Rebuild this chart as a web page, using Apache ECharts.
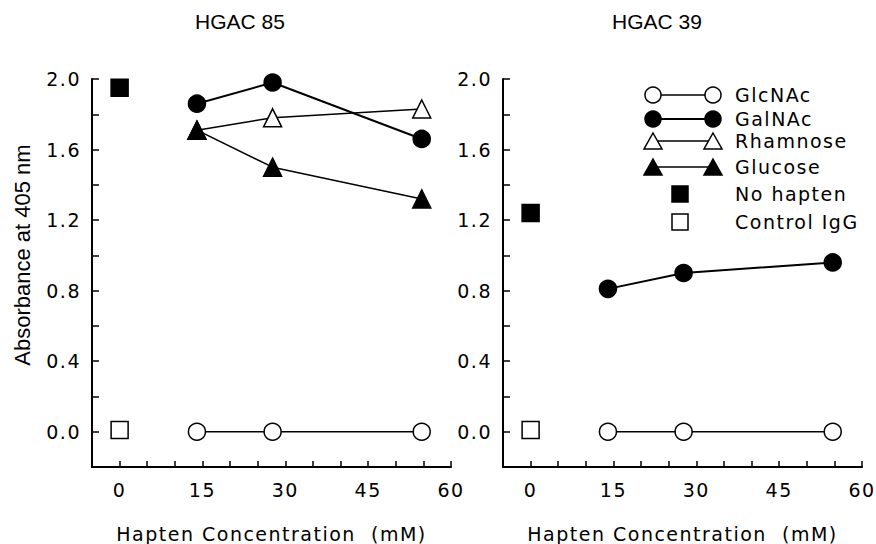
<!DOCTYPE html>
<html>
<head>
<meta charset="utf-8">
<script src="https://cdn.jsdelivr.net/npm/echarts@6/dist/echarts.min.js"></script>
<style>
html,body{margin:0;padding:0;background:#fff;}
#c{width:876px;height:544px;}
text[style*="DejaVu"]{letter-spacing:1.5px;}
</style>
</head>
<body>
<div id="c"></div>
<script>
// ---- data ----
const panelTitles = ['HGAC 85', 'HGAC 39'];
const conc = [14, 27.7, 54.7];           // hapten concentration (mM)
const xTickLabels = [0, 15, 30, 45, 60];
const yTickLabels = [0.0, 0.4, 0.8, 1.2, 1.6, 2.0];
// HGAC 85
const glcNAc85 = [0.0, 0.0, 0.0];
const galNAc85 = [1.86, 1.98, 1.66];
const rhamnose85 = [1.71, 1.78, 1.83];
const glucose85 = [1.71, 1.50, 1.32];
const noHapten85 = 1.95;
const controlIgG85 = 0.01;
// HGAC 39
const glcNAc39 = [0.0, 0.0, 0.0];
const galNAc39 = [0.81, 0.90, 0.96];
const noHapten39 = 1.24;
const controlIgG39 = 0.01;
const legendNames = ['GlcNAc', 'GalNAc', 'Rhamnose', 'Glucose', 'No hapten', 'Control IgG'];

// ---- chart ----
const TICKFONT = '"DejaVu Sans"';
const FS = 19;
const pairs = (xs, ys) => xs.map((x, i) => [x, ys[i]]);

function xAxisDef(gi) {
  return {
    type: 'value', gridIndex: gi, min: -5, max: 60, interval: 5,
    name: 'Hapten Concentration  (mM)', nameLocation: 'middle', nameGap: 57,
    nameTextStyle: { fontFamily: TICKFONT, fontSize: FS, color: '#000' },
    axisLine: { show: true, onZero: false, lineStyle: { color: '#000', width: 2 } },
    axisTick: { show: true, inside: true, length: 6, lineStyle: { color: '#000', width: 1.5 } },
    axisLabel: {
      margin: 13, fontFamily: TICKFONT, fontSize: FS, color: '#000',
      formatter: v => xTickLabels.some(t => Math.abs(t - v) < 1e-6) ? String(Math.round(v)) : ''
    },
    splitLine: { show: false }
  };
}
function yAxisDef(gi) {
  return {
    type: 'value', gridIndex: gi, min: -0.2, max: 2.0, interval: 0.2,
    axisLine: { show: true, onZero: false, lineStyle: { color: '#000', width: 2 } },
    axisTick: { show: true, inside: true, length: 7, lineStyle: { color: '#000', width: 1.5 } },
    axisLabel: {
      margin: 11, fontFamily: TICKFONT, fontSize: FS, color: '#000',
      formatter: v => {
        const t = yTickLabels.find(t => Math.abs(t - v) < 1e-6);
        return t === undefined ? '' : t.toFixed(1);
      }
    },
    splitLine: { show: false }
  };
}
function lineSeries(name, gi, ys, symbol, filled, lw) {
  return {
    name, type: 'line', xAxisIndex: gi, yAxisIndex: gi,
    data: pairs(conc, ys), symbol, symbolSize: symbol === 'triangle' ? 18 : 17,
    lineStyle: { color: '#000', width: lw },
    itemStyle: { color: filled ? '#000' : '#fff', borderColor: '#000', borderWidth: 1.5, opacity: 1 },
    emphasis: { disabled: true }, animation: false
  };
}
function squareSeries(name, gi, y, filled) {
  return {
    name, type: 'scatter', xAxisIndex: gi, yAxisIndex: gi,
    data: [[0, y]], symbol: 'rect', symbolSize: 17,
    itemStyle: { color: filled ? '#000' : '#fff', borderColor: '#000', borderWidth: 1.5, opacity: 1 },
    emphasis: { disabled: true }, animation: false
  };
}

// legend built from graphic elements (marker—line—marker)
const legendX = 735, legendRows = [95, 119, 141, 167, 194, 222];
const legendGraphics = [];
function mk(kind, cx, cy, filled) {
  const st = { fill: filled ? '#000' : '#fff', stroke: '#000', lineWidth: 1.5 };
  if (kind === 'circle') return { type: 'circle', shape: { cx, cy, r: 8 }, style: st, z: 10 };
  if (kind === 'triangle') return { type: 'polygon', shape: { points: [[cx, cy - 8], [cx + 9, cy + 8], [cx - 9, cy + 8]] }, style: st, z: 10 };
  return { type: 'rect', shape: { x: cx - 8, y: cy - 8, width: 16, height: 16 }, style: st, z: 10 };
}
const legendKinds = [['circle', false, 1.5], ['circle', true, 2], ['triangle', false, 1.5], ['triangle', true, 1.5]];
legendKinds.forEach(([k, f, lw], i) => {
  const y = legendRows[i];
  legendGraphics.push({ type: 'line', shape: { x1: 653, y1: y, x2: 713, y2: y }, style: { stroke: '#000', lineWidth: lw }, z: 9 });
  legendGraphics.push(mk(k, 653, y, f));
  legendGraphics.push(mk(k, 713, y, f));
});
legendGraphics.push(mk('rect', 680, legendRows[4], true));
legendGraphics.push(mk('rect', 680, legendRows[5], false));
legendNames.forEach((n, i) => {
  legendGraphics.push({ type: 'text', x: legendX, y: legendRows[i], z: 10,
    style: { text: n, fontFamily: 'DejaVu Sans', fontSize: FS, fill: '#000', textAlign: 'left', textVerticalAlign: 'middle', align: 'left', verticalAlign: 'middle' } });
});
legendGraphics.push({ type: 'text', x: 22, y: 255, rotation: Math.PI / 2,
  style: { text: 'Absorbance at 405 nm', fontFamily: 'Liberation Sans', fontSize: 22, fill: '#000', textAlign: 'center', textVerticalAlign: 'middle', align: 'center', verticalAlign: 'middle' } });

const option = {
  backgroundColor: '#fff',
  animation: false,
  title: [
    { text: panelTitles[0], left: 190, top: 6, textStyle: { fontFamily: 'Liberation Sans', fontSize: 21, fontWeight: 'normal', color: '#000' } },
    { text: panelTitles[1], left: 607, top: 6, textStyle: { fontFamily: 'Liberation Sans', fontSize: 21, fontWeight: 'normal', color: '#000' } }
  ],
  grid: [
    { left: 92, top: 79, width: 359, height: 388, outerBoundsMode: 'none', containLabel: false },
    { left: 503, top: 79, width: 359, height: 388, outerBoundsMode: 'none', containLabel: false }
  ],
  xAxis: [xAxisDef(0), xAxisDef(1)],
  yAxis: [yAxisDef(0), yAxisDef(1)],
  series: [
    lineSeries(legendNames[0], 0, glcNAc85, 'circle', false, 1.5),
    lineSeries(legendNames[1], 0, galNAc85, 'circle', true, 2),
    lineSeries(legendNames[2], 0, rhamnose85, 'triangle', false, 1.5),
    lineSeries(legendNames[3], 0, glucose85, 'triangle', true, 1.5),
    squareSeries(legendNames[4], 0, noHapten85, true),
    squareSeries(legendNames[5], 0, controlIgG85, false),
    lineSeries(legendNames[0], 1, glcNAc39, 'circle', false, 1.5),
    lineSeries(legendNames[1], 1, galNAc39, 'circle', true, 2),
    squareSeries(legendNames[4], 1, noHapten39, true),
    squareSeries(legendNames[5], 1, controlIgG39, false)
  ],
  graphic: legendGraphics
};
const chart = echarts.init(document.getElementById('c'), null, { renderer: 'svg', width: 876, height: 544 });
chart.setOption(option);
</script>
</body>
</html>
